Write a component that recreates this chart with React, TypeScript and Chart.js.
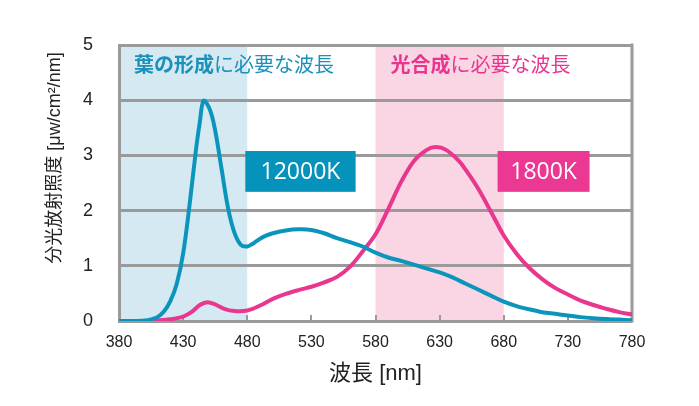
import React, { useEffect, useRef } from "react";
import { Chart, registerables } from "chart.js";

Chart.register(...registerables);

// Wavelengths [nm] and spectral irradiance [μW/cm²/nm]
const wl12000K = [380, 390, 400, 405, 410, 415, 420, 425, 430, 435, 440, 443, 446, 451, 455, 460, 465, 470, 475, 480, 485, 490, 495, 500, 510, 520, 530, 540, 550, 560, 570, 580, 590, 600, 610, 620, 630, 640, 650, 660, 670, 680, 690, 700, 710, 720, 730, 740, 750, 760, 770, 780];
const val12000K = [0, 0, 0.01, 0.03, 0.07, 0.17, 0.36, 0.67, 1.22, 2.1, 3.1, 3.6, 3.99, 3.82, 3.45, 2.75, 2.05, 1.6, 1.38, 1.35, 1.41, 1.49, 1.55, 1.59, 1.64, 1.66, 1.65, 1.59, 1.5, 1.43, 1.35, 1.24, 1.15, 1.09, 1.02, 0.95, 0.88, 0.79, 0.68, 0.57, 0.46, 0.35, 0.27, 0.21, 0.16, 0.13, 0.1, 0.07, 0.05, 0.035, 0.025, 0.015];

const wl1800K = [380, 390, 400, 410, 420, 430, 437, 443, 449, 455, 462, 470, 480, 490, 500, 510, 520, 530, 540, 550, 560, 570, 580, 590, 600, 610, 620, 627, 635, 645, 650, 660, 670, 680, 690, 700, 710, 720, 730, 740, 750, 760, 770, 780];
const val1800K = [0, 0, 0, 0.01, 0.03, 0.08, 0.17, 0.29, 0.34, 0.3, 0.22, 0.18, 0.19, 0.28, 0.4, 0.49, 0.56, 0.62, 0.7, 0.8, 0.98, 1.26, 1.57, 2.03, 2.52, 2.9, 3.1, 3.15, 3.1, 2.9, 2.75, 2.4, 1.98, 1.55, 1.22, 0.96, 0.76, 0.6, 0.48, 0.37, 0.29, 0.22, 0.16, 0.12];

const xTicks = [380, 430, 480, 530, 580, 630, 680, 730, 780];
const yTicks = [0, 1, 2, 3, 4, 5];

// Highlighted bands
const bandFrom = [380, 580];
const bandTo = [480, 680];
const bandFill = ["#d5e9f3", "#fad6e4"];
const bandBold = ["葉の形成", "光合成"];
const bandRest = ["に必要な波長", "に必要な波長"];
const bandTextColor = ["#1b90bb", "#e8368f"];

// Series label boxes (data-space anchors)
const boxText = ["12000K", "1800K"];
const boxX0 = [478.5, 675.2];
const boxX1 = [564.5, 746.9];
const boxY0 = [2.34, 2.34];
const boxY1 = [3.08, 3.08];
const boxColor = ["#0592bb", "#ea3893"];

const GRID = "#9a9a9a";
const JP = "'Liberation Sans', 'Noto Sans CJK JP', sans-serif";

const annotPlugin = {
  id: "annot",
  beforeDraw(chart: any) {
    const { ctx, chartArea: a, scales } = chart;
    const x = scales.x;
    ctx.save();
    for (let i = 0; i < bandFrom.length; i++) {
      const x0 = x.getPixelForValue(bandFrom[i]);
      const x1 = x.getPixelForValue(bandTo[i]);
      ctx.fillStyle = bandFill[i];
      ctx.fillRect(x0, a.top, x1 - x0, a.bottom - a.top);
    }
    ctx.restore();
  },
  beforeDatasetsDraw(chart: any) {
    const { ctx, chartArea: a, scales } = chart;
    const x = scales.x;
    ctx.save();
    ctx.strokeStyle = GRID;
    ctx.lineWidth = 2;
    for (const t of xTicks) {
      const px = Math.round(x.getPixelForValue(t));
      ctx.beginPath();
      ctx.moveTo(px, a.bottom);
      ctx.lineTo(px, a.bottom - 6);
      ctx.stroke();
    }
    // right border
    ctx.lineWidth = 3;
    ctx.beginPath();
    ctx.moveTo(a.right, a.top - 1.5);
    ctx.lineTo(a.right, a.bottom + 1.5);
    ctx.stroke();
    ctx.restore();
  },
  afterDraw(chart: any) {
    const { ctx, chartArea: a, scales } = chart;
    const x = scales.x;
    const y = scales.y;
    ctx.save();
    // band titles
    ctx.textBaseline = "middle";
    ctx.textAlign = "left";
    for (let i = 0; i < bandFrom.length; i++) {
      const px = x.getPixelForValue(bandFrom[i]) + 15;
      const py = a.top + 19;
      ctx.fillStyle = bandTextColor[i];
      ctx.font = "bold 20px 'Noto Sans CJK JP', sans-serif";
      ctx.fillText(bandBold[i], px, py);
      const w = ctx.measureText(bandBold[i]).width;
      ctx.font = "20px 'Noto Sans CJK JP', sans-serif";
      ctx.fillText(bandRest[i], px + w, py);
    }
    // series label boxes
    for (let i = 0; i < boxText.length; i++) {
      const x0 = x.getPixelForValue(boxX0[i]);
      const x1 = x.getPixelForValue(boxX1[i]);
      const y0 = y.getPixelForValue(boxY1[i]);
      const y1 = y.getPixelForValue(boxY0[i]);
      ctx.fillStyle = boxColor[i];
      ctx.fillRect(x0, y0, x1 - x0, y1 - y0);
      ctx.fillStyle = "#ffffff";
      ctx.font = "23px 'Open Sans', sans-serif";
      ctx.textAlign = "center";
      ctx.fillText(boxText[i], (x0 + x1) / 2, (y0 + y1) / 2 + 1);
      ctx.textAlign = "left";
    }
    // axis titles
    ctx.fillStyle = "#222";
    ctx.font = "18px " + JP;
    ctx.textAlign = "center";
    ctx.save();
    ctx.translate(a.left - 64, (a.top + a.bottom) / 2 - 25);
    ctx.rotate(-Math.PI / 2);
    ctx.fillText("分光放射照度 [μw/cm²/nm]", 0, 0);
    ctx.restore();
    ctx.font = "22px " + JP;
    ctx.fillText("波長 [nm]", (a.left + a.right) / 2, a.bottom + 53);
    ctx.restore();
  },
};

export default function App() {
  const ref = useRef<HTMLCanvasElement | null>(null);
  useEffect(() => {
    if (!ref.current) return;
    const chart = new Chart(ref.current, {
      type: "line",
      data: {
        datasets: [
          {
            label: "12000K",
            data: wl12000K.map((w, i) => ({ x: w, y: val12000K[i] })),
            borderColor: "#0b95bd",
            borderWidth: 4,
            pointRadius: 0,
            tension: 0.35,
            fill: false,
          },
          {
            label: "1800K",
            data: wl1800K.map((w, i) => ({ x: w, y: val1800K[i] })),
            borderColor: "#e9368f",
            borderWidth: 4,
            pointRadius: 0,
            tension: 0.35,
            fill: false,
          },
        ],
      },
      options: {
        animation: false,
        responsive: true,
        maintainAspectRatio: false,
        layout: { padding: { top: 45, right: 67, left: 0, bottom: 0 } },
        plugins: { legend: { display: false }, tooltip: { enabled: false } },
        scales: {
          x: {
            type: "linear",
            min: 380,
            max: 780,
            afterBuildTicks: (s: any) => {
              s.ticks = xTicks.map((v) => ({ value: v }));
            },
            afterFit: (s: any) => {
              s.height = 85;
            },
            ticks: {
              padding: 12,
              color: "#222",
              font: { family: "'Liberation Sans', sans-serif", size: 16 },
              maxRotation: 0,
            },
            grid: { display: false, drawTicks: false },
            border: { display: false },
          },
          y: {
            type: "linear",
            min: 0,
            max: 5,
            afterBuildTicks: (s: any) => {
              s.ticks = yTicks.map((v) => ({ value: v }));
            },
            afterFit: (s: any) => {
              s.width = 119;
            },
            ticks: {
              padding: 26,
              color: "#222",
              font: { family: "'Liberation Sans', sans-serif", size: 18 },
            },
            grid: { color: GRID, lineWidth: 3, drawTicks: false },
            border: { display: true, color: GRID, width: 3 },
          },
        },
      },
      plugins: [annotPlugin],
    } as any);
    return () => chart.destroy();
  }, []);
  return (
    <div style={{ position: "fixed", left: 0, top: 0, width: 699, height: 406, background: "#fff" }}>
      <canvas ref={ref} />
    </div>
  );
}
